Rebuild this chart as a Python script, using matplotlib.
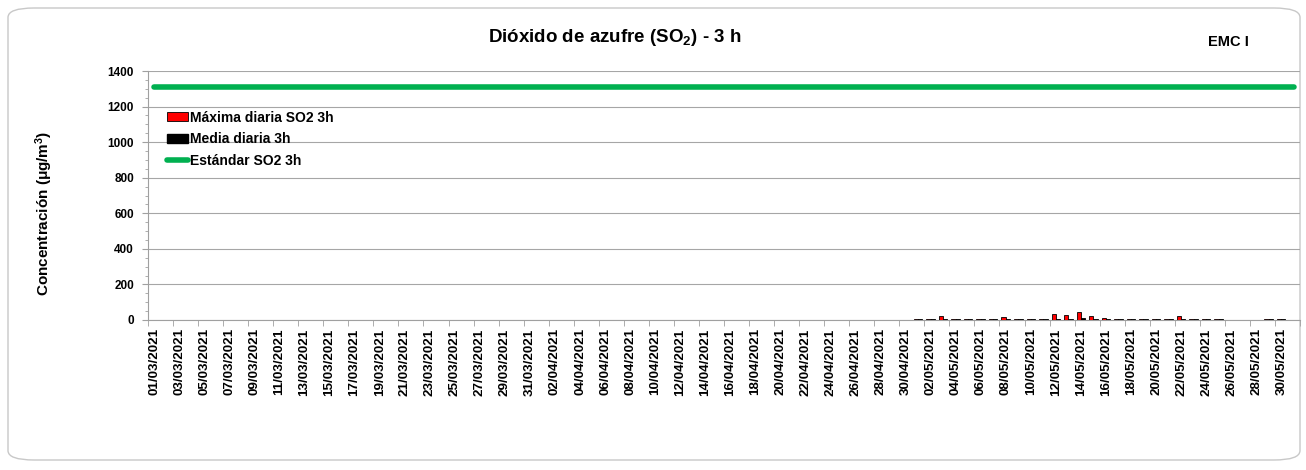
import numpy as np
import pandas as pd
import matplotlib
matplotlib.use('Agg')
import matplotlib.pyplot as plt
from matplotlib.patches import FancyBboxPatch, Patch
from matplotlib.lines import Line2D

plt.rcParams['font.family'] = ['Liberation Sans', 'DejaVu Sans']
plt.rcParams['font.weight'] = 'bold'
plt.rcParams['mathtext.fontset'] = 'custom'
plt.rcParams['mathtext.rm'] = 'Liberation Sans:bold'
plt.rcParams['mathtext.bf'] = 'Liberation Sans:bold'
plt.rcParams['mathtext.default'] = 'bf'

# categories: one per day, 01/03/2021 .. 31/05/2021
dates = pd.date_range('2021-03-01', '2021-05-31', freq='D')
date_labels = [d.strftime('%d/%m/%Y') for d in dates]

# may values (ug/m3), None = no data
may_max = [6, 5, 20, 4, 4, 4, 5, 15, 4, 4, 4, 34, 30, 46, 24, 11,
           4, 6, 4, 4, 4, 20, 4, 4, 7, None, None, None, 4, 4, None]
may_mean = [5, 4, 6, 3, 3, 3, 4, 5, 3, 3, 3, 6, 6, 10, 6, 4,
            3, 4, 3, 3, 3, 5, 3, 3, 6, None, None, None, 3, 3, None]
standard = 1310

n_before = 61  # march + april, no data
max_daily = np.array([np.nan] * n_before + [np.nan if v is None else v for v in may_max], dtype=float)
mean_daily = np.array([np.nan] * n_before + [np.nan if v is None else v for v in may_mean], dtype=float)

fig = plt.figure(figsize=(13.06, 4.70), dpi=100)

# rounded frame round the chart
frame = FancyBboxPatch((8 / 1306, 10 / 470), 1292 / 1306, 452 / 470,
                       boxstyle='round,pad=0,rounding_size=0.02',
                       transform=fig.transFigure, facecolor='white',
                       edgecolor='#c8c8c8', linewidth=1.0, zorder=-5)
fig.patches.append(frame)

ax = fig.add_axes([148 / 1306, 150 / 470, 1152 / 1306, 249 / 470])
ax.set_zorder(2)
ax.set_facecolor('none')

x = np.arange(len(dates))
w = 0.34
ax.bar(x - w / 2, max_daily, width=w, color='#ff0000', edgecolor='black', linewidth=0.6, zorder=3)
ax.bar(x + w / 2, mean_daily, width=w, color='black', edgecolor='black', linewidth=0.6, zorder=3)
ax.plot(x, np.full(len(x), standard), color='#00b050', linewidth=4, solid_capstyle='round', zorder=4)

ax.set_xlim(-0.5, len(dates) - 0.5)
ax.set_ylim(0, 1400)
ax.set_yticks(np.arange(0, 1401, 200))
ax.set_yticks(np.arange(0, 1401, 50), minor=True)
ax.yaxis.grid(True, color='#a6a6a6', linewidth=0.8, zorder=0)
ax.set_axisbelow(True)

ax.set_xticks(x[::2])
ax.set_xticklabels(date_labels[::2], rotation=90, fontsize=9.6, fontweight='bold')
ax.set_xticks(np.arange(-0.5, len(dates), 2), minor=True)
ax.tick_params(axis='x', which='major', length=0, pad=6)
ax.tick_params(axis='x', which='minor', length=4, color='#a0a0a0')
ax.tick_params(axis='y', which='major', length=4, color='#a0a0a0', labelsize=8.5, pad=6)
ax.tick_params(axis='y', which='minor', length=2, color='#a0a0a0')
for lbl in ax.get_yticklabels():
    lbl.set_fontweight('bold')

for s in ['top', 'right']:
    ax.spines[s].set_visible(False)
ax.spines['left'].set_color('#a0a0a0')
ax.spines['bottom'].set_color('#a0a0a0')

ax.set_ylabel('Concentración (μg/m$^3$)', fontsize=11, fontweight='bold')
ax.yaxis.set_label_coords(-0.081, 0.43)

fig.text(615 / 1306, 1 - 38 / 470, 'Dióxido de azufre (SO$_2$) - 3 h',
         ha='center', va='center', fontsize=13.5, fontweight='bold')
fig.text(1228 / 1306, 1 - 42 / 470, 'EMC I', ha='center', va='center',
         fontsize=10.5, fontweight='bold')

handles = [Patch(facecolor='#ff0000', edgecolor='black', linewidth=0.6),
           Patch(facecolor='black', edgecolor='black'),
           Line2D([0], [0], color='#00b050', linewidth=4, solid_capstyle='round')]
labels = ['Máxima diaria SO2 3h', 'Media diaria 3h', 'Estándar SO2 3h']
leg = ax.legend(handles, labels, loc='upper left', bbox_to_anchor=(0.012, 0.863),
                frameon=False, fontsize=10, handlelength=1.5, handleheight=0.6,
                handletextpad=0.1, labelspacing=0.55, borderaxespad=0)
for t in leg.get_texts():
    t.set_fontweight('bold')

fig.savefig('out.png', dpi=100)
